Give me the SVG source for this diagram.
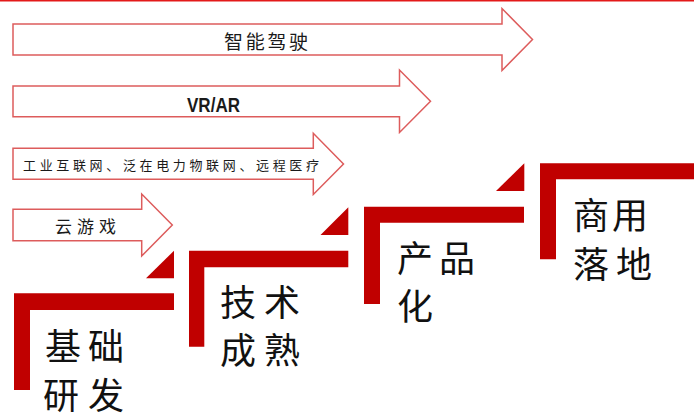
<svg xmlns="http://www.w3.org/2000/svg" width="694" height="414" viewBox="0 0 694 414">
<style>
.arrow{fill:#ffffff;stroke:#dd5c5c;stroke-width:1.5;stroke-linejoin:miter}
.step{fill:#c00000}
.lbl{font-family:"Noto Sans CJK SC","Noto Sans",sans-serif;fill:#1a1a1a}
.big{font-family:"Noto Sans CJK SC","Noto Sans",sans-serif;font-size:36px;fill:#111111}
</style>
<rect x="0" y="0" width="694" height="1.5" fill="#e31a1a"/>
<g id="connectors">
  <g id="arrow-autodrive">
    <polygon class="arrow" points="13,24 502,24 502,8.5 532.5,39.5 502,70.5 502,55 13,55"/>
    <text class="lbl" x="224" y="49" font-size="19" textLength="84" lengthAdjust="spacing">智能驾驶</text>
  </g>
  <g id="arrow-vrar">
    <polygon class="arrow" points="13,86 399.5,86 399.5,70 430.5,101.3 399.5,132.5 399.5,116.7 13,116.7"/>
    <text x="187" y="112" font-family="Liberation Sans, Arial, sans-serif" font-weight="bold" font-size="20" fill="#1a1a1a" textLength="53" lengthAdjust="spacingAndGlyphs">VR/AR</text>
  </g>
  <g id="arrow-iot">
    <polygon class="arrow" points="13,148.3 313.3,148.3 313.3,133.3 343.5,164 313.3,194.5 313.3,179.3 13,179.3"/>
    <text class="lbl" x="23" y="169.5" font-size="13" textLength="296" lengthAdjust="spacing">工业互联网、泛在电力物联网、远程医疗</text>
  </g>
  <g id="arrow-cloudgame">
    <polygon class="arrow" points="13,209.3 141.7,209.3 141.7,194 172.3,225 141.7,256 141.7,240.7 13,240.7"/>
    <text class="lbl" x="55" y="233" font-size="17" textLength="61" lengthAdjust="spacing">云游戏</text>
  </g>
</g>
<g id="stage-research">
  <polygon class="step" points="14,293.3 174,293.3 174,310 30,310 30,390 14,390"/>
  <polygon class="step" points="146,278.3 174,278.3 174,250.7"/>
  <text class="big" x="45" y="360" textLength="79" lengthAdjust="spacing">基础</text>
  <text class="big" x="43" y="409" textLength="81" lengthAdjust="spacing">研发</text>
</g>
<g id="stage-mature">
  <polygon class="step" points="189,250.7 348.3,250.7 348.3,267.3 204.3,267.3 204.3,346.7 189,346.7"/>
  <polygon class="step" points="320.5,235 348.3,235 348.3,207.3"/>
  <text class="big" x="220" y="316" textLength="80" lengthAdjust="spacing">技术</text>
  <text class="big" x="220" y="364" textLength="80" lengthAdjust="spacing">成熟</text>
</g>
<g id="stage-product">
  <polygon class="step" points="364,206.7 524,206.7 524,222.7 380,222.7 380,304 364,304"/>
  <polygon class="step" points="496,191 524.3,191 524.3,163.3"/>
  <text class="big" x="397" y="272" textLength="78" lengthAdjust="spacing">产品</text>
  <text class="big" x="397" y="320">化</text>
</g>
<g id="stage-commercial">
  <polygon class="step" points="540,163.3 694,163.3 694,179.3 556,179.3 556,259.3 540,259.3"/>
  <text class="big" x="573" y="229" textLength="75" lengthAdjust="spacing">商用</text>
  <text class="big" x="573" y="278" textLength="79" lengthAdjust="spacing">落地</text>
</g>
</svg>
